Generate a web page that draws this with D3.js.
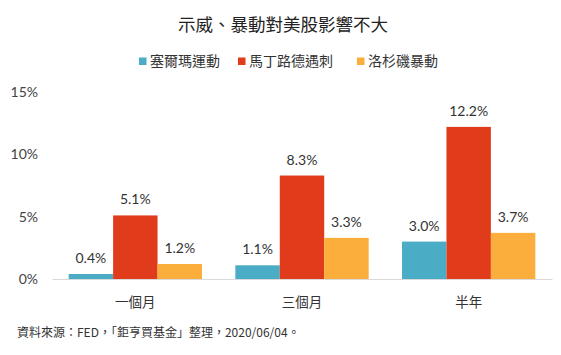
<!DOCTYPE html>
<html><head><meta charset="utf-8">
<script src="https://cdn.jsdelivr.net/npm/d3@7"></script>
<style>
html,body{margin:0;padding:0;background:#fff;}
svg{display:block;}
</style>
</head><body>
<svg id="chart" width="561" height="355"></svg>
<script>
const categories = ["一個月", "三個月", "半年"];
const seriesNames = ["塞爾瑪運動", "馬丁路德遇刺", "洛杉磯暴動"];
const selma = [0.4, 1.1, 3.0];
const mlk = [5.1, 8.3, 12.2];
const la = [1.2, 3.3, 3.7];
const yTicks = [0, 5, 10, 15];
const colors = ["#4bacc6", "#e03c1c", "#fbae3c"];
const title = "示威、暴動對美股影響不大";
const footnote = "資料來源：FED，「鉅亨買基金」整理，2020/06/04。";

const series = [selma, mlk, la];
const svg = d3.select("#chart");
const cjk = "'Noto Sans CJK TC','Noto Sans CJK SC',sans-serif";
const num = "Lato,'Noto Sans',sans-serif";

const x0 = d3.scaleBand().domain(categories).range([52, 552]).paddingInner(0.2).paddingOuter(0.1);
const x1 = d3.scaleBand().domain(d3.range(3)).range([0, x0.bandwidth()]);
const y = d3.scaleLinear().domain([0, 15]).range([279, 92]);

// title
svg.append("text").attr("x", 283).attr("y", 31).attr("text-anchor", "middle")
  .attr("font-family", cjk).attr("font-size", 17.5).attr("fill", "#222").text(title);

// legend
const legendX = [139, 238, 357];
seriesNames.forEach((n, i) => {
  const g = svg.append("g").attr("transform", `translate(${legendX[i]},61)`);
  g.append("rect").attr("x", 0).attr("y", -3.5).attr("width", 7.5).attr("height", 7.5).attr("fill", colors[i]);
  g.append("text").attr("x", 11).attr("y", 0).attr("dy", "0.35em")
    .attr("font-family", cjk).attr("font-size", 14).attr("fill", "#333").text(n);
});

// y axis labels
const yAxis = d3.axisLeft(y).tickValues(yTicks).tickFormat(d => d + "%").tickSize(0).tickPadding(0);
const ya = svg.append("g").attr("transform", "translate(38,0)").call(yAxis);
ya.select(".domain").remove();
ya.selectAll("text").attr("font-family", num).attr("font-size", 14).attr("fill", "#444");

// x axis
const xAxis = d3.axisBottom(x0).tickSize(0).tickPadding(18);
const xa = svg.append("g").attr("transform", `translate(0,${y(0)})`).call(xAxis);
xa.select(".domain").attr("stroke", "#d9d9d9").attr("stroke-width", 1);
xa.selectAll("text").attr("font-family", cjk).attr("font-size", 13.5).attr("fill", "#333");

// bars
categories.forEach((c, ci) => {
  series.forEach((s, si) => {
    const v = s[ci];
    const bx = x0(c) + x1(si);
    svg.append("rect").attr("x", bx).attr("y", y(v)).attr("width", x1.bandwidth())
      .attr("height", y(0) - y(v)).attr("fill", colors[si]);
    svg.append("text").attr("x", bx + x1.bandwidth() / 2).attr("y", y(v) - 11)
      .attr("text-anchor", "middle").attr("font-family", num).attr("font-size", 14)
      .attr("fill", "#333").text(v.toFixed(1) + "%");
  });
});

// footnote
svg.append("text").attr("x", 17).attr("y", 337).attr("font-family", cjk)
  .attr("font-size", 12).attr("fill", "#333").text(footnote);
</script>
</body></html>
